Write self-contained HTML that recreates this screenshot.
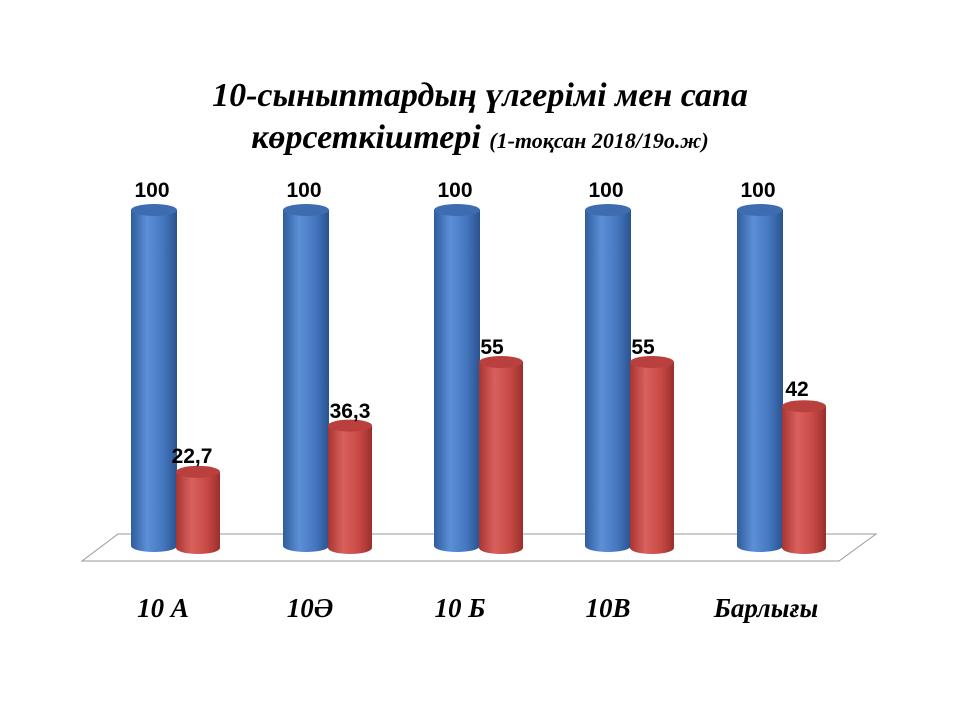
<!DOCTYPE html>
<html><head><meta charset="utf-8"><style>
body{margin:0;background:#fff;width:960px;height:720px;overflow:hidden}
</style></head><body>
<svg width="960" height="720" viewBox="0 0 960 720" xmlns="http://www.w3.org/2000/svg">
<defs>
<linearGradient id="gb" x1="0" x2="1" y1="0" y2="0">
<stop offset="0" stop-color="#2f5d9e"/><stop offset="0.35" stop-color="#5b8fd6"/><stop offset="0.7" stop-color="#4577c0"/><stop offset="1" stop-color="#2a528e"/></linearGradient>
<linearGradient id="gr" x1="0" x2="1" y1="0" y2="0">
<stop offset="0" stop-color="#a83532"/><stop offset="0.35" stop-color="#d9605c"/><stop offset="0.7" stop-color="#c84a46"/><stop offset="1" stop-color="#9a2e2b"/></linearGradient>
</defs>
<text x="480" y="106" text-anchor="middle" font-family="Liberation Serif" font-style="italic" font-weight="bold" font-size="34">10-сыныптардың үлгерімі мен сапа</text>
<text x="480" y="148" text-anchor="middle" font-family="Liberation Serif" font-style="italic" font-weight="bold" font-size="34">көрсеткіштері <tspan font-size="22">(1-тоқсан 2018/19о.ж)</tspan></text>
<polygon points="118,534 876,534 839,561 82,561" fill="none" stroke="#999" stroke-width="1"/>
<g id="bars"></g>
<g font-family="Liberation Sans" font-weight="bold" font-size="21" text-anchor="middle" fill="#000">
<text x="152" y="197">100</text><text x="304" y="197">100</text><text x="455" y="197">100</text><text x="606" y="197">100</text><text x="758" y="197">100</text>
<text x="192" y="463">22,7</text><text x="350" y="418">36,3</text><text x="492" y="354">55</text><text x="643" y="354">55</text><text x="797" y="396">42</text>
</g>
<g font-family="Liberation Serif" font-style="italic" font-weight="bold" font-size="27" text-anchor="middle">
<text x="163" y="617">10 А</text><text x="310" y="617">10Ә</text><text x="460" y="617">10 Б</text><text x="608" y="617">10В</text><text x="766" y="617">Барлығы</text>
</g>
</svg>
<script>
var g=document.getElementById('bars'),ns='http://www.w3.org/2000/svg';
function cyl(cx,top,bot,w,fill,topc){
 var r=w/2,ry=6;
 var p=document.createElementNS(ns,'path');
 p.setAttribute('d','M'+(cx-r)+','+top+' L'+(cx-r)+','+bot+' A'+r+','+ry+' 0 0 0 '+(cx+r)+','+bot+' L'+(cx+r)+','+top+' Z');
 p.setAttribute('fill',fill);g.appendChild(p);
 var e=document.createElementNS(ns,'ellipse');
 e.setAttribute('cx',cx);e.setAttribute('cy',top);e.setAttribute('rx',r);e.setAttribute('ry',ry);e.setAttribute('fill',topc);g.appendChild(e);
}
var bx=[154,306,457,608,760],rv=[22.7,36.3,55,55,42];
for(var i=0;i<5;i++){
 cyl(bx[i],210,546,46,'url(#gb)','#3d6db0');
 cyl(bx[i]+44,549-rv[i]*3.4,548,44,'url(#gr)','#b9403c');
}
</script>
</body></html>
